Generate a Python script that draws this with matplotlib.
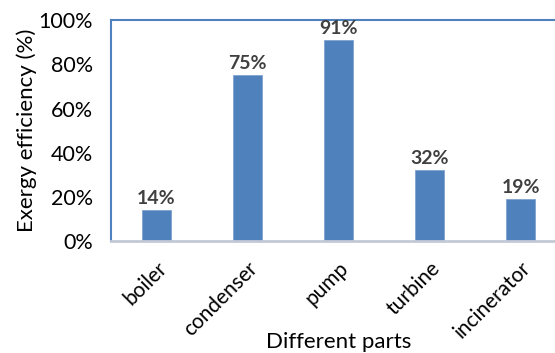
import matplotlib
matplotlib.use("Agg")
import matplotlib.pyplot as plt
from matplotlib.ticker import PercentFormatter

parts = ["boiler", "condenser", "pump", "turbine", "incinerator"]
efficiency = [14, 75, 91, 32, 19]
yticks = [0, 20, 40, 60, 80, 100]

plt.rcParams['font.family'] = ['Lato', 'DejaVu Sans']

fig = plt.figure(figsize=(5.55, 3.53), dpi=100)
ax = fig.add_axes([0.2, 0.317, 0.82, 0.626])

x = list(range(len(parts)))
bars = ax.bar(x, efficiency, width=0.31, color="#4F81BD",
              edgecolor="#7FA3D1", linewidth=0.6, zorder=2)

for xi, v in zip(x, efficiency):
    ax.text(xi, v + 1.5, f"{v}%", ha="center", va="bottom",
            fontsize=14, fontweight="bold", color="#404040")

ax.set_xlim(-0.5, len(parts) - 0.5)
ax.set_ylim(0, 100)
ax.set_yticks(yticks)
ax.yaxis.set_major_formatter(PercentFormatter(decimals=0))
ax.set_xticks(x)
ax.set_xticklabels(parts, rotation=45, ha="right", rotation_mode="anchor",
                   fontsize=15)
ax.tick_params(axis="y", labelsize=15.5, length=0, pad=13)
ax.tick_params(axis="x", length=0, pad=12)

for side in ["left", "top", "right"]:
    ax.spines[side].set_color("#4F81BD")
    ax.spines[side].set_linewidth(1.5)
ax.spines["bottom"].set_color("#C3CAD6")
ax.spines["bottom"].set_linewidth(2)

ax.set_ylabel("Exergy efficiency (%)", fontsize=16)
ax.yaxis.set_label_coords(-0.163, 0.5)
ax.set_xlabel("Different parts", fontsize=16)
ax.xaxis.set_label_coords((339 - 111) / (0.82 * 555), -0.412)

fig.savefig("out.png", dpi=100)
